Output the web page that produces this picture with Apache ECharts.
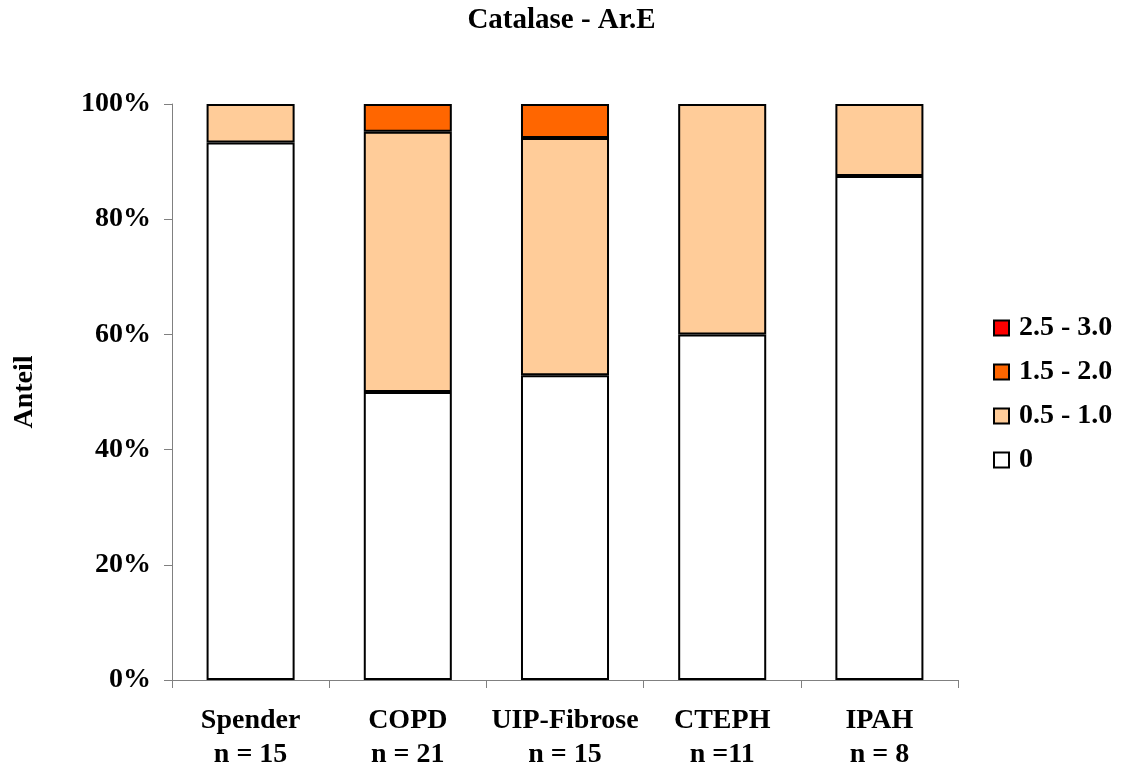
<!DOCTYPE html>
<html><head><meta charset="utf-8">
<script src="https://cdn.jsdelivr.net/npm/echarts@6/dist/echarts.min.js"></script>
<style>html,body{margin:0;padding:0;background:#fff}#c{width:1123px;height:769px}</style>
</head><body><div id="c"></div>
<script>
const categories = ['Spender\nn = 15', 'COPD\nn = 21', 'UIP-Fibrose\nn = 15', 'CTEPH\nn =11', 'IPAH\nn = 8'];
const seriesNames = ['0', '0.5 - 1.0', '1.5 - 2.0', '2.5 - 3.0'];
const colors = ['#FFFFFF', '#FFCC99', '#FF6600', '#FF0000'];
const s0 = [93.3, 50.0, 52.9, 60.0, 87.5];
const s05 = [6.7, 45.2, 41.2, 40.0, 12.5];
const s15 = [0, 4.8, 5.9, 0, 0];
const s25 = [0, 0, 0, 0, 0];
const yTicks = [0, 20, 40, 60, 80, 100];
const allData = [s0, s05, s15, s25];
const font = 'Liberation Serif, Times New Roman, serif';
const chart = echarts.init(document.getElementById('c'));
chart.setOption({
  animation: false,
  title: {text: 'Catalase - Ar.E', left: 'center', top: 1,
    textStyle: {fontFamily: font, fontWeight: 'bold', fontSize: 29, color: '#000'}},
  grid: {left: 172, right: 165, top: 104, bottom: 89, outerBoundsMode: 'none'},
  legend: {
    orient: 'vertical', left: 988, top: 309,
    data: seriesNames.slice().reverse(),
    itemWidth: 15, itemHeight: 15, itemGap: 16,
    icon: 'rect',
    textStyle: {fontFamily: font, fontWeight: 'bold', fontSize: 28, lineHeight: 28, color: '#000', padding: [0, 0, 0, 5]}
  },
  xAxis: {
    type: 'category', data: categories,
    axisLine: {lineStyle: {color: '#808080', width: 1}},
    axisTick: {show: true, length: 8, interval: 0, lineStyle: {color: '#808080'}},
    axisLabel: {interval: 0, fontFamily: font, fontWeight: 'bold', fontSize: 28, color: '#000', margin: 24, lineHeight: 34}
  },
  yAxis: {
    type: 'value', min: 0, max: 100, interval: 20,
    name: 'Anteil', nameLocation: 'middle', nameGap: 133,
    nameTextStyle: {fontFamily: font, fontWeight: 'bold', fontSize: 28, color: '#000'},
    axisLine: {show: true, lineStyle: {color: '#808080', width: 1}},
    axisTick: {show: true, length: 8, lineStyle: {color: '#808080'}},
    splitLine: {show: false},
    axisLabel: {fontFamily: font, fontWeight: 'bold', fontSize: 28, color: '#000', margin: 21,
      formatter: v => yTicks.includes(v) ? v + '%' : ''}
  },
  series: seriesNames.map((n, i) => ({
    name: n, type: 'bar', stack: 'a', barWidth: '56%',
    itemStyle: {color: colors[i], borderColor: '#000', borderWidth: 2},
    data: allData[i].map(v => v === 0 ? '-' : v)
  }))
});
</script></body></html>
